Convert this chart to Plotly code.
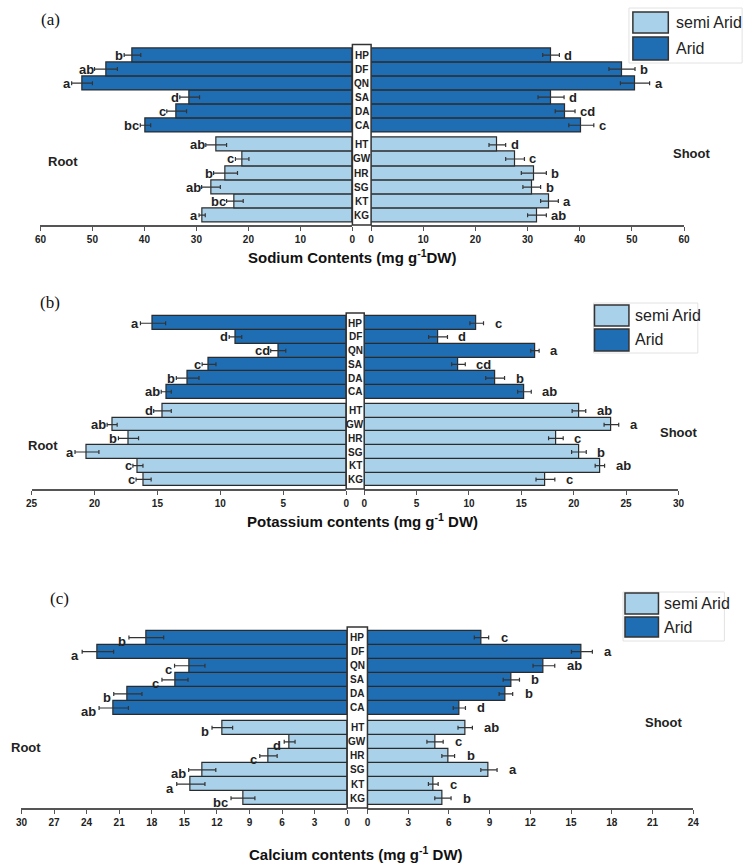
import plotly.graph_objects as go

W, H = 755, 867

categories = ["KG", "KT", "SG", "HR", "GW", "HT", "CA", "DA", "SA", "QN", "DF", "HP"]
groups = ["semi Arid"] * 6 + ["Arid"] * 6

# (a) Sodium
na_root = [28.9, 22.6, 27.2, 24.4, 21.2, 26.2, 39.8, 33.8, 31.3, 52.0, 47.4, 42.3]
na_root_err = [0.6, 1.6, 1.8, 2.3, 1.3, 2.0, 1.0, 1.9, 1.9, 2.0, 2.2, 1.6]
na_root_let = ["a", "bc", "ab", "b", "c", "ab", "bc", "c", "d", "a", "ab", "b"]
na_shoot = [31.8, 34.2, 30.8, 31.2, 27.6, 24.2, 40.3, 37.2, 34.5, 50.6, 48.1, 34.5]
na_shoot_err = [1.8, 1.7, 1.7, 2.4, 1.8, 1.6, 2.4, 1.9, 2.5, 2.8, 2.5, 1.6]
na_shoot_let = ["ab", "a", "b", "b", "c", "d", "c", "cd", "d", "a", "b", "d"]

# (b) Potassium
k_root = [16.1, 16.55, 20.6, 17.3, 18.6, 14.6, 14.3, 12.6, 10.9, 5.4, 8.8, 15.35]
k_root_err = [0.6, 0.4, 0.95, 0.8, 0.4, 0.7, 0.4, 0.9, 0.55, 0.6, 0.5, 1.0]
k_root_let = ["c", "c", "a", "b", "ab", "d", "ab", "b", "c", "cd", "d", "a"]
k_shoot = [17.3, 22.5, 20.5, 18.3, 23.6, 20.5, 15.3, 12.5, 9.0, 16.3, 7.05, 10.74]
k_shoot_err = [0.9, 0.45, 0.7, 0.7, 0.7, 0.65, 0.65, 0.9, 0.65, 0.4, 0.9, 0.65]
k_shoot_let = ["c", "ab", "b", "c", "a", "ab", "ab", "b", "cd", "a", "d", "c"]

# (c) Calcium
ca_root = [9.6, 14.4, 13.35, 7.25, 5.3, 11.5, 21.5, 20.2, 15.86, 14.5, 22.96, 18.5]
ca_root_err = [1.1, 1.3, 1.25, 0.8, 0.5, 0.95, 1.35, 1.3, 1.2, 1.4, 1.45, 1.6]
ca_root_let = ["bc", "a", "ab", "c", "d", "b", "ab", "b", "c", "c", "a", "b"]
ca_shoot = [5.56, 4.85, 8.95, 5.95, 4.98, 7.2, 6.77, 10.2, 10.6, 13.0, 15.8, 8.4]
ca_shoot_err = [0.6, 0.36, 0.6, 0.47, 0.6, 0.53, 0.45, 0.5, 0.6, 0.8, 0.77, 0.53]
ca_shoot_let = ["b", "c", "a", "b", "c", "ab", "d", "b", "b", "ab", "a", "c"]

na_ticks = [0, 10, 20, 30, 40, 50, 60]
k_ticks_root = [0, 5, 10, 15, 20, 25]
k_ticks_shoot = [0, 5, 10, 15, 20, 25, 30]
ca_ticks_root = [0, 3, 6, 9, 12, 15, 18, 21, 24, 27, 30]
ca_ticks_shoot = [0, 3, 6, 9, 12, 15, 18, 21, 24]

titles = ["Sodium Contents (mg g<sup>-1</sup>DW)",
          "Potassium contents (mg g<sup>-1</sup> DW)",
          "Calcium contents (mg g<sup>-1</sup> DW)"]
panel_tags = ["(a)", "(b)", "(c)"]

DARK = "#1f6db3"
LIGHT = "#a9d2ea"
EDGE = "#2b2b2b"
FONT = "Liberation Sans, Arial, sans-serif"

GAP = 0.4
ypos = [i + (GAP if g == "Arid" else 0) for i, g in enumerate(groups)]
colors = [DARK if g == "Arid" else LIGHT for g in groups]


def px(x):
    return x / W


def py(y):
    return 1 - y / H


panels = [
    dict(root=na_root, rerr=na_root_err, rlet=na_root_let, shoot=na_shoot, serr=na_shoot_err,
         slet=na_shoot_let, rmax=60, smax=60, rt=na_ticks, st=na_ticks,
         lx=(35, 352), rx=(371, 689), yy=(44.5, 225),
         title_xy=(352, 256), tag_xy=(45, 20), root_xy=(41, 162), shoot_xy=(676, 153),
         lshift=(-1, 0), rshift=(3, 0),
         leg=dict(box=(633, 8, 748, 63), sw=(637, 673), semi=(12, 33), arid=(37, 60), tx=679)),
    dict(root=k_root, rerr=k_root_err, rlet=k_root_let, shoot=k_shoot, serr=k_shoot_err,
         slet=k_shoot_let, rmax=25, smax=30, rt=k_ticks_root, st=k_ticks_shoot,
         lx=(26, 345.7), rx=(364, 683.3), yy=(313, 489),
         title_xy=(362, 520), tag_xy=(45, 302), root_xy=(20, 445), shoot_xy=(663, 432),
         lshift=(-1, 0), rshift=(9, 0),
         leg=dict(box=(597, 303, 703, 353), sw=(598, 633), semi=(305, 326), arid=(329, 351), tx=637)),
    dict(root=ca_root, rerr=ca_root_err, rlet=ca_root_let, shoot=ca_shoot, serr=ca_shoot_err,
         slet=ca_shoot_let, rmax=30, smax=24, rt=ca_ticks_root, st=ca_ticks_shoot,
         lx=(15.7, 346.7), rx=(367.3, 698.3), yy=(627, 808),
         title_xy=(356, 853), tag_xy=(54, 598), root_xy=(3, 747), shoot_xy=(647, 722),
         lshift=(1, -4), rshift=(10, 0),
         leg=dict(box=(627, 592, 730, 641), sw=(629, 663), semi=(593, 614), arid=(617, 637), tx=667)),
]

fig = go.Figure()
layout = dict(width=W, height=H, margin=dict(l=0, r=0, t=0, b=0),
              paper_bgcolor="white", plot_bgcolor="rgba(0,0,0,0)",
              showlegend=False, bargap=0, font=dict(family=FONT, color="#222"))
shapes = []
annotations = []
YR = [-0.7, 12.15]


def note(x, y, text, size, xref="paper", yref="paper", xanchor="center", yanchor="middle",
         family=FONT, color="#222", xshift=0, yshift=0):
    annotations.append(dict(x=x, y=y, xref=xref, yref=yref, text=text, showarrow=False,
                            xanchor=xanchor, yanchor=yanchor, xshift=xshift, yshift=yshift,
                            font=dict(size=size, color=color, family=family)))


for p, P in enumerate(panels):
    for side in (0, 1):
        idx = 2 * p + side + 1
        xa = "x" if idx == 1 else f"x{idx}"
        ya = "y" if idx == 1 else f"y{idx}"
        xkey = "xaxis" if idx == 1 else f"xaxis{idx}"
        ykey = "yaxis" if idx == 1 else f"yaxis{idx}"
        if side == 0:
            vals, errs, lets, dom, rng, tv = P["root"], P["rerr"], P["rlet"], P["lx"], [P["rmax"], 0], P["rt"]
            anc, sh = "right", P["lshift"]
        else:
            vals, errs, lets, dom, rng, tv = P["shoot"], P["serr"], P["slet"], P["rx"], [0, P["smax"]], P["st"]
            anc, sh = "left", P["rshift"]
        fig.add_trace(go.Bar(
            x=vals, y=ypos, orientation="h", width=1.0,
            marker=dict(color=colors, line=dict(color=EDGE, width=1.2)),
            error_x=dict(type="data", array=errs, visible=True, color="#333", thickness=1.2, width=2),
            xaxis=xa, yaxis=ya, hoverinfo="skip"))
        for v, e, t, yv in zip(vals, errs, lets, ypos):
            note(v + e, yv, f"<b>{t}</b>", 13, xref=xa, yref=ya, xanchor=anc,
                 xshift=(-sh[0] if side == 0 else sh[0]), yshift=sh[1])
        layout[xkey] = dict(domain=[px(dom[0]), px(dom[1])], range=rng, anchor=ya,
                            showline=True, linecolor="#555", linewidth=1.5, ticks="outside",
                            ticklen=4, tickwidth=1.2, tickcolor="#555", tickvals=tv,
                            ticktext=[f"<b>{t}</b>" for t in tv],
                            tickfont=dict(size=10, color="#222", family=FONT),
                            showgrid=False, zeroline=False, fixedrange=True)
        layout[ykey] = dict(domain=[py(P["yy"][1]), py(P["yy"][0])], range=YR, anchor=xa,
                            visible=False, showgrid=False, zeroline=False)

    # category label box
    shapes.append(dict(type="rect", xref="paper", yref="paper",
                       x0=px(P["lx"][1]), x1=px(P["rx"][0]),
                       y0=py(P["yy"][1]), y1=py(P["yy"][0]),
                       fillcolor="white", line=dict(color="#333", width=1.5), layer="above"))
    yref = "y" if p == 0 else f"y{2 * p + 1}"
    cx = px((P["lx"][1] + P["rx"][0]) / 2)
    for c, yv in zip(categories, ypos):
        note(cx, yv, f"<b>{c}</b>", 10, yref=yref)
    note(px(P["title_xy"][0]), py(P["title_xy"][1]), f"<b>{titles[p]}</b>", 15, color="#111")
    note(px(P["tag_xy"][0]), py(P["tag_xy"][1]), panel_tags[p], 17, color="#111",
         family="Liberation Serif, Times New Roman, serif")
    note(px(P["root_xy"][0]), py(P["root_xy"][1]), "<b>Root</b>", 13, xanchor="left")
    note(px(P["shoot_xy"][0]), py(P["shoot_xy"][1]), "<b>Shoot</b>", 13, xanchor="left")
    # legend
    L = P["leg"]
    bx = L["box"]
    shapes.append(dict(type="rect", xref="paper", yref="paper", x0=px(bx[0]), x1=px(bx[2]),
                       y0=py(bx[3]), y1=py(bx[1]), line=dict(color="#e2e2e2", width=1),
                       fillcolor="white", layer="above"))
    for name, col, yr in (("semi Arid", LIGHT, L["semi"]), ("Arid", DARK, L["arid"])):
        shapes.append(dict(type="rect", xref="paper", yref="paper", x0=px(L["sw"][0]), x1=px(L["sw"][1]),
                           y0=py(yr[1]), y1=py(yr[0]), fillcolor=col,
                           line=dict(color="#333", width=1.5), layer="above"))
        note(px(L["tx"]), py((yr[0] + yr[1]) / 2), name, 16, xanchor="left")

layout["shapes"] = shapes
layout["annotations"] = annotations
fig.update_layout(**layout)
fig.write_html("out.html", config={"displayModeBar": False},
               post_script="document.body.style.margin='0';")
